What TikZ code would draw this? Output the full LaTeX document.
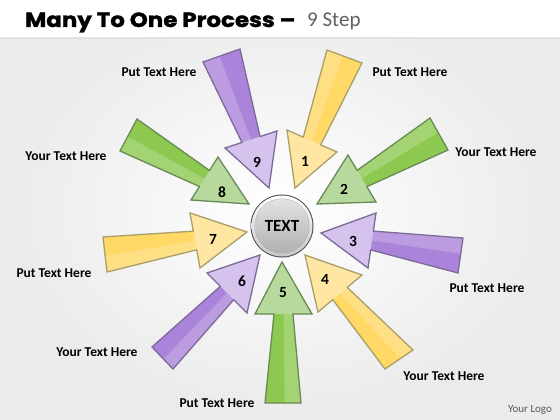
\documentclass[tikz,border=0pt]{standalone}
\usepackage{fontspec}
\usepackage{graphicx}
\setmainfont{Carlito}
\newfontfamily\titlefont{Poppins}[BoldFeatures={FakeBold=1.6}]
\usetikzlibrary{calc}
\definecolor{yelS}{HTML}{FFD866}
\definecolor{yelH}{HTML}{FFE7A3}
\definecolor{yelB}{HTML}{A89F6A}
\definecolor{grnS}{HTML}{8DC850}
\definecolor{grnH}{HTML}{B8D99E}
\definecolor{grnB}{HTML}{6A8A55}
\definecolor{purS}{HTML}{AA84DA}
\definecolor{purH}{HTML}{D5C3EE}
\definecolor{purB}{HTML}{7D6A98}
\newcommand\mtoarrow[8]{%
  \coordinate (M) at ($(#2)!0.5!(#3)$);
  \coordinate (JA) at ($(M)!9.5pt!(#2)$);
  \coordinate (JB) at ($(M)!9.5pt!(#3)$);
  \fill[#6] (#1) -- (#3) -- (JB) -- (#5) -- (#4) -- (JA) -- (#2) -- cycle;
  \fill[white, opacity=0.2] (#4) -- ($(#4)!0.45!(#5)$) -- ($(JA)!0.5!(JB)$) -- (JA) -- cycle;
  \fill[#7] (#1) -- (#3) -- (JB) -- (JA) -- (#2) -- cycle;
  \draw[abord, draw=#8] (#1) -- (#3) -- (JB) -- (#5) -- (#4) -- (JA) -- (#2) -- cycle;
}
\begin{document}
\begin{tikzpicture}[x=1pt,y=-1pt,
  lbl/.style={font=\fontsize{13.5}{14}\selectfont\bfseries, text=black, inner sep=0pt},
  num/.style={font=\fontsize{15.5}{16}\selectfont\bfseries, text=black, inner sep=0pt},
  abord/.style={line width=1.3pt, line join=miter}]
\useasboundingbox (0,0) rectangle (560,420);
\shade[inner color=white, outer color=gray!16] (0,0) rectangle (560,420);
\fill[white] (0,0) rectangle (560,37);
\draw[gray!22, line width=2pt] (0,38) -- (560,38);
% title
\node[anchor=base west, inner sep=0pt] (title) at (25,27)
  {\scalebox{1.12}[1]{\titlefont\bfseries\fontsize{20.5}{21}\selectfont Many To One Process \textendash}};
\node[anchor=base west, inner sep=0pt, text=gray!75!black] (sub) at (307,27)
  {\fontsize{21}{21}\selectfont 9 Step};
% arrows
\mtoarrow{295,188}{287,130}{337,152}{327,50}{362,63}{yelS}{yelH}{yelB}
\mtoarrow{317,204}{348,155}{376,202}{430,118}{448,150}{grnS}{grnH}{grnB}
\mtoarrow{321,233}{376,213}{368,268}{463,238}{458,273}{purS}{purH}{purB}
\mtoarrow{305,255}{362,275}{318,312}{413,350}{385,369}{yelS}{yelH}{yelB}
\mtoarrow{282,262}{312,314}{255,314}{301,403}{265,403}{grnS}{grnH}{grnB}
\mtoarrow{260,255}{247,313}{207,273}{173,369}{152,347}{purS}{purH}{purB}
\mtoarrow{247,232}{200,268}{190,213}{107,272}{103,237}{yelS}{yelH}{yelB}
\mtoarrow{249,204}{191,200}{218,157}{120,151}{137,119}{grnS}{grnH}{grnB}
\mtoarrow{269,188}{225,148}{277,131}{203,62}{240,49}{purS}{purH}{purB}
% numbers
\node[num] (n1) at (305,161) {1};
\node[num] (n2) at (344,189) {2};
\node[num] (n3) at (353,241) {3};
\node[num] (n4) at (325,279) {4};
\node[num] (n5) at (283,293) {5};
\node[num] (n6) at (242,281) {6};
\node[num] (n7) at (213,239) {7};
\node[num] (n8) at (222,192) {8};
\node[num] (n9) at (257,162) {9};
% centre sphere
\fill[gray!60!black] (282,226) circle (31.5);
\shade[top color=white, bottom color=gray!45] (282,226) circle (30.5);
\fill[gray!60] (282,226) circle (27.5);
\shade[top color=gray!22, bottom color=gray!62] (282,226) circle (27);
\node[font=\fontsize{17}{17}\selectfont\bfseries, inner sep=0pt] (ctr) at (282,226) {TEXT};
% labels
\node[lbl] (l1) at (410,72) {Put Text Here};
\node[lbl] (l2) at (496,152) {Your Text Here};
\node[lbl] (l3) at (487,288) {Put Text Here};
\node[lbl] (l4) at (444,376) {Your Text Here};
\node[lbl] (l5) at (217,403) {Put Text Here};
\node[lbl] (l6) at (97,352) {Your Text Here};
\node[lbl] (l7) at (54,273) {Put Text Here};
\node[lbl] (l8) at (66,156) {Your Text Here};
\node[lbl] (l9) at (159,72) {Put Text Here};
\node[font=\fontsize{11}{11}\selectfont, text=gray!70!black, inner sep=0pt] (logo) at (530,410) {Your Logo};
\end{tikzpicture}
\end{document}
